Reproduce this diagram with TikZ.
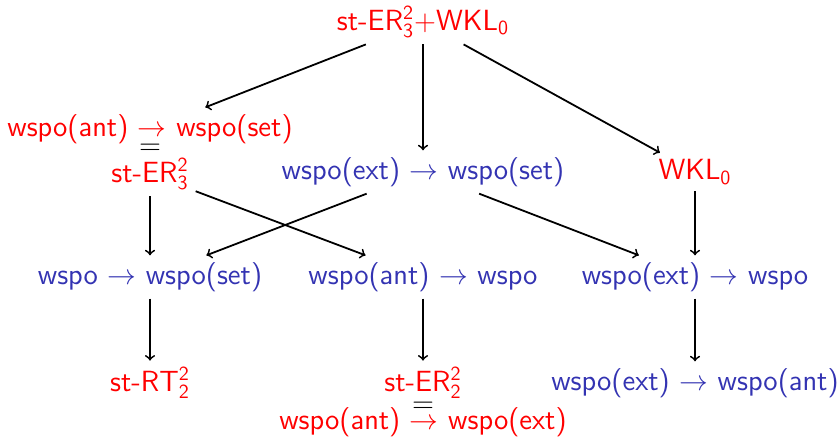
\documentclass[tikz,border=0pt]{standalone}
\definecolor{structblue}{rgb}{0.2,0.2,0.7}
\definecolor{alertred}{rgb}{1,0,0}
\begin{document}
\begin{tikzpicture}[x=0.5pt,y=-0.5pt,
  every node/.style={font=\sffamily\fontsize{14.6}{17.5}\selectfont},
  alert/.style={text=alertred},
  struct/.style={text=structblue},
  equiv/.style={text=black, inner sep=0pt},
  imp/.style={->,line width=0.9pt}]
\useasboundingbox (0,0) rectangle (840,440);

% statements
\node[alert] (top) at (423,22) {st-ER$^{\mathsf 2}_{\mathsf 3}{+}$WKL$_{\mathsf 0}$};
\node[alert] (antset) at (150,129) {wspo(ant) $\to$ wspo(set)};
\node[equiv] (eqA) at (150,149) {$=$};
\node[alert] (er3) at (150,174) {st-ER$^{\mathsf 2}_{\mathsf 3}$};
\node[struct] (extset) at (423,172) {wspo(ext) $\to$ wspo(set)};
\node[alert] (wkl) at (695,172) {WKL$_{\mathsf 0}$};
\node[struct] (wsposet) at (150,277) {wspo $\to$ wspo(set)};
\node[struct] (antwspo) at (423,277) {wspo(ant) $\to$ wspo};
\node[struct] (extwspo) at (695,277) {wspo(ext) $\to$ wspo};
\node[alert] (rt) at (150,383) {st-RT$^{\mathsf 2}_{\mathsf 2}$};
\node[alert] (er2) at (423,383) {st-ER$^{\mathsf 2}_{\mathsf 2}$};
\node[equiv] (eqB) at (423,407) {$=$};
\node[alert] (antext) at (423,422) {wspo(ant) $\to$ wspo(ext)};
\node[struct] (extant) at (695,383) {wspo(ext) $\to$ wspo(ant)};

% implications
\draw[imp] (top) -- (antset);
\draw[imp] (top) -- (extset);
\draw[imp] (top) -- (wkl);
\draw[imp] (er3) -- (wsposet);
\draw[imp] (er3) -- (antwspo);
\draw[imp] (extset) -- (wsposet);
\draw[imp] (extset) -- (extwspo);
\draw[imp] (wkl) -- (extwspo);
\draw[imp] (wsposet) -- (rt);
\draw[imp] (antwspo) -- (er2);
\draw[imp] (extwspo) -- (extant);
\end{tikzpicture}
\end{document}
